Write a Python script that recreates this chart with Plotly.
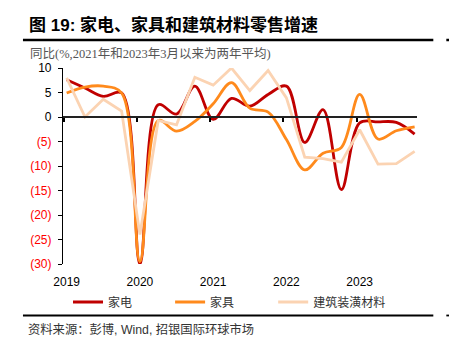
import plotly.graph_objects as go

quarters = ["2019Q1","2019Q2","2019Q3","2019Q4","2020Q1","2020Q2","2020Q3","2020Q4",
            "2021Q1","2021Q2","2021Q3","2021Q4","2022Q1","2022Q2","2022Q3","2022Q4",
            "2023Q1","2023Q2","2023Q3","2023Q4"]
appliances = [7.6, 5.9, 4.2, 4.9, -30.0, 2.5, 0.6, 6.3, -0.5, 3.8, 2.2, 4.6, 6.3, -5.2, 1.5, -14.8, -1.2, -1.0, -1.1, -3.5]
furniture = [4.9, 6.1, 6.3, 4.9, -29.5, -0.7, -2.9, -0.9, 2.7, 7.0, 1.8, 1.0, -4.6, -10.8, -7.4, -6.2, 4.6, -4.5, -2.8, -2.0]
building = [8.0, 0.0, 3.6, 1.2, -24.0, -0.7, -1.6, 8.1, 6.5, 10.0, 5.4, 9.5, 3.9, -8.2, -8.5, -9.2, -2.6, -9.6, -9.5, -7.0]
year_labels = ["2019", "2020", "2021", "2022", "2023"]
y_ticks = [10, 5, 0, -5, -10, -15, -20, -25, -30]

W, H = 449, 356
L, R, T, B = 63, 416.7, 68, 264

def px(x):
    return (x - L) / (R - L)

def py(y):
    return (B - y) / (B - T)

idx = list(range(len(quarters)))
fig = go.Figure()
fig.add_trace(go.Scatter(x=idx, y=appliances, name="家电", mode="lines", legend="legend",
                         line=dict(color="#C00000", width=2.8, shape="spline", smoothing=1.0)))
fig.add_trace(go.Scatter(x=idx, y=furniture, name="家具", mode="lines", legend="legend2",
                         line=dict(color="#FF8A1C", width=2.8, shape="spline", smoothing=1.0)))
fig.add_trace(go.Scatter(x=idx, y=building, name="建筑装潢材料", mode="lines", legend="legend3",
                         line=dict(color="#FBD3B2", width=2.8)))
# invisible trace on overlay axis for the zero-line ticks
fig.add_trace(go.Scatter(x=[idx[0]], y=[0], xaxis="x2", mode="lines", showlegend=False,
                         hoverinfo="skip", line=dict(color="rgba(0,0,0,0)")))

ytext = []
for v in y_ticks:
    if v < 0:
        ytext.append('<span style="color:#FF0000">(%d)</span>' % (-v))
    else:
        ytext.append(str(v))

xr = [-0.2, 19.13]

def leg(xpix):
    return dict(orientation="h", x=px(xpix), xanchor="left", y=py(302), yanchor="middle",
                font=dict(size=12, color="#333", family="Noto Sans CJK SC"),
                bgcolor="rgba(0,0,0,0)")

fig.update_layout(
    width=W, height=H,
    margin=dict(l=L, r=W - R, t=T, b=H - B, autoexpand=False),
    paper_bgcolor="white", plot_bgcolor="white",
    font=dict(family="Liberation Sans, Arial, Noto Sans CJK SC", size=12, color="#000"),
    xaxis=dict(range=xr, tickvals=[0, 4, 8, 12, 16], ticktext=year_labels,
               showgrid=False, zeroline=False, showline=False, ticks="",
               ticklabelstandoff=9,
               tickfont=dict(size=12, color="#000"), automargin=False),
    xaxis2=dict(range=xr, overlaying="x", anchor="free", position=0.75,
                tickvals=[-0.17, 3.83, 7.83, 11.83, 15.83], showticklabels=False,
                ticks="outside", ticklen=4, tickwidth=1.5, tickcolor="#000",
                showline=True, linecolor="#222", linewidth=1.5, showgrid=False, zeroline=False),
    yaxis=dict(range=[-30, 10], tickvals=y_ticks, ticktext=ytext,
               showgrid=False, zeroline=False, showline=True, linecolor="#000", linewidth=1.2,
               ticks="outside", ticklen=4, tickwidth=1.2, tickcolor="#000",
               ticklabelstandoff=4,
               tickfont=dict(size=12, color="#000"), automargin=False),
    legend=leg(68),
    legend2=leg(170),
    legend3=leg(273),
    showlegend=True,
)

annotations = [
    dict(text="<b>图 19: 家电、家具和建筑材料零售增速</b>", x=px(27), y=py(25),
         xanchor="left", yanchor="middle", font=dict(size=17, color="#000",
         family="Liberation Sans, Noto Sans CJK SC")),
    dict(text="同比(%,2021年和2023年3月以来为两年平均)", x=px(28), y=py(54),
         xanchor="left", yanchor="middle", font=dict(size=12.5, color="#555",
         family="Liberation Serif, Noto Sans CJK SC")),
    dict(text="资料来源：彭博, Wind, 招银国际环球市场", x=px(26), y=py(329),
         xanchor="left", yanchor="middle", font=dict(size=12.3, color="#333",
         family="Liberation Sans, Noto Sans CJK SC")),
]
for a in annotations:
    a.update(xref="paper", yref="paper", showarrow=False)
fig.update_layout(annotations=annotations)

shapes = [
    dict(type="line", x0=px(23), x1=px(433), y0=py(40), y1=py(40), line=dict(color="#000", width=2.5)),
    dict(type="line", x0=px(446), x1=px(449), y0=py(40), y1=py(40), line=dict(color="#000", width=2.5)),
    dict(type="line", x0=px(23), x1=px(433), y0=py(315.5), y1=py(315.5), line=dict(color="#000", width=1.8)),
    dict(type="line", x0=px(446), x1=px(449), y0=py(315.5), y1=py(315.5), line=dict(color="#000", width=1.8)),
]
for s in shapes:
    s.update(xref="paper", yref="paper")
fig.update_layout(shapes=shapes)

fig.write_html("out.html", config={"displayModeBar": False},
               post_script="document.body.style.margin='0';document.body.style.padding='0';")
